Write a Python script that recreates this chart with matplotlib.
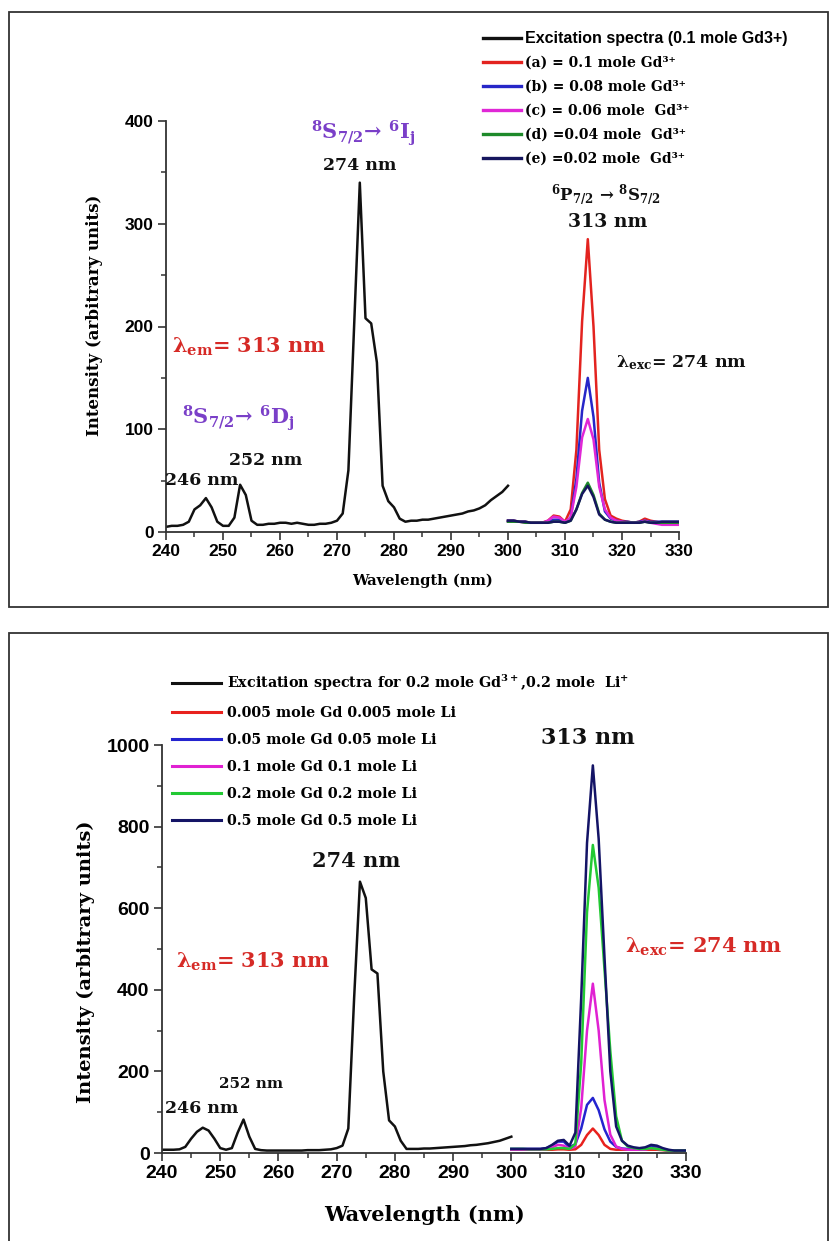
import matplotlib
matplotlib.use("Agg")
import matplotlib.pyplot as plt
from matplotlib.patches import Rectangle
from matplotlib.ticker import MultipleLocator

plt.rcParams['font.family'] = ['Liberation Sans', 'DejaVu Sans']
plt.rcParams['font.weight'] = 'bold'
plt.rcParams['mathtext.fontset'] = 'custom'
plt.rcParams['mathtext.rm'] = 'DejaVu Serif:bold'
plt.rcParams['mathtext.it'] = 'DejaVu Serif:bold'
plt.rcParams['mathtext.bf'] = 'DejaVu Serif:bold'

SERIF = ['DejaVu Serif', 'DejaVu Sans']
RED_TXT = '#d62a26'
PURPLE = '#7a3fc8'

# ---------------- data : panel 1 (Gd3+ series) ----------------
p1_exc_x = list(range(240, 301))
p1_exc_y = [5, 6, 6, 7, 10, 22, 26, 33, 24, 10,
            6, 6, 14, 46, 36, 11, 7, 7, 8, 8,
            9, 9, 8, 9, 8, 7, 7, 8, 8, 9,
            11, 18, 60, 200, 340, 208, 203, 165, 45, 30,
            24, 13, 10, 11, 11, 12, 12, 13, 14, 15,
            16, 17, 18, 20, 21, 23, 26, 31, 35, 39,
            45]

p1_em_x = list(range(300, 331))
p1_a = [11, 11, 10, 10, 9, 9, 9, 11, 16, 15, 10, 22, 80, 205, 285, 200, 80, 32, 16, 13,
        11, 10, 9, 10, 13, 11, 10, 9, 9, 9, 9]
p1_b = [11, 11, 10, 10, 9, 9, 9, 10, 12, 12, 9, 14, 52, 118, 150, 112, 48, 20, 13, 11,
        10, 10, 9, 10, 11, 10, 10, 10, 10, 10, 10]
p1_c = [10, 10, 10, 9, 9, 9, 9, 11, 15, 14, 10, 14, 44, 92, 110, 90, 44, 22, 14, 11,
        10, 9, 9, 9, 11, 9, 8, 7, 7, 7, 7]
p1_d = [10, 10, 10, 9, 9, 9, 9, 9, 10, 10, 9, 11, 22, 38, 48, 36, 18, 12, 10, 9,
        9, 9, 9, 9, 10, 9, 9, 9, 9, 9, 9]
p1_e = [11, 11, 10, 10, 9, 9, 9, 9, 10, 10, 9, 11, 22, 37, 45, 34, 17, 12, 10, 9,
        9, 9, 9, 9, 10, 9, 9, 10, 10, 10, 10]
p1_labels = ['Excitation spectra (0.1 mole Gd3+)',
             '(a) = 0.1 mole Gd³⁺',
             '(b) = 0.08 mole Gd³⁺',
             '(c) = 0.06 mole  Gd³⁺',
             '(d) =0.04 mole  Gd³⁺',
             '(e) =0.02 mole  Gd³⁺']
p1_colors = ['#111111', '#e3231f', '#2626c8', '#e027d6', '#1e8a2a', '#16165e']

# ---------------- data : panel 2 (Gd3+/Li+ series) ----------------
p2_exc_x = list(range(240, 301))
p2_exc_y = [8, 8, 8, 9, 15, 35, 52, 62, 55, 35,
            12, 8, 12, 50, 82, 40, 10, 7, 6, 6,
            6, 6, 6, 6, 6, 7, 7, 7, 8, 9,
            12, 18, 60, 380, 665, 625, 450, 440, 200, 80,
            65, 30, 10, 10, 10, 11, 11, 12, 13, 14,
            15, 16, 17, 19, 20, 22, 24, 27, 30, 35,
            40]

p2_em_x = list(range(300, 331))
p2_005 = [8, 8, 8, 8, 8, 8, 8, 8, 9, 9, 8, 9, 20, 44, 60, 44, 20, 10, 8, 8,
          8, 8, 8, 8, 8, 8, 7, 6, 6, 6, 6]
p2_05 = [10, 10, 10, 10, 10, 10, 12, 18, 28, 28, 14, 22, 60, 118, 135, 105, 58, 28, 15, 11,
         10, 10, 10, 12, 16, 14, 10, 7, 6, 6, 6]
p2_1 = [8, 8, 8, 8, 8, 8, 9, 14, 20, 18, 10, 16, 110, 300, 415, 300, 130, 45, 16, 10,
        8, 8, 8, 8, 12, 10, 8, 6, 6, 6, 6]
p2_2 = [10, 10, 10, 9, 9, 9, 9, 10, 12, 12, 10, 22, 220, 590, 755, 650, 450, 250, 90, 30,
        16, 12, 10, 10, 12, 10, 8, 6, 6, 6, 6]
p2_5 = [10, 10, 10, 10, 10, 10, 12, 20, 30, 32, 18, 50, 380, 760, 950, 770, 480, 200, 65, 30,
        18, 14, 12, 14, 20, 18, 12, 8, 6, 6, 6]
p2_labels = ['Excitation spectra for 0.2 mole Gd$^{3+}$,0.2 mole  Li$^{+}$',
             '0.005 mole Gd 0.005 mole Li',
             '0.05 mole Gd 0.05 mole Li',
             '0.1 mole Gd 0.1 mole Li',
             '0.2 mole Gd 0.2 mole Li',
             '0.5 mole Gd 0.5 mole Li']
p2_colors = ['#111111', '#e8211d', '#2424cf', '#e021d2', '#22c933', '#141466']


def style_axes(ax, ymax, ymajor, labelsize):
    ax.set_xlim(240, 330)
    ax.set_ylim(0, ymax)
    ax.xaxis.set_major_locator(MultipleLocator(10))
    ax.xaxis.set_minor_locator(MultipleLocator(5))
    ax.yaxis.set_major_locator(MultipleLocator(ymajor))
    ax.yaxis.set_minor_locator(MultipleLocator(ymajor / 2))
    for s in ['top', 'right']:
        ax.spines[s].set_visible(False)
    for s in ['left', 'bottom']:
        ax.spines[s].set_linewidth(1.3)
        ax.spines[s].set_color('#333333')
    ax.tick_params(which='major', direction='out', length=6, width=1.2,
                   color='#333333', labelsize=labelsize, pad=3)
    ax.tick_params(which='minor', direction='out', length=3.5, width=1.1,
                   color='#333333')


fig = plt.figure(figsize=(8.3, 12.41), dpi=100)

# panel frames
fig.add_artist(Rectangle((9 / 830, 1 - 607 / 1241), 819 / 830, 595 / 1241,
                         transform=fig.transFigure, fill=False, lw=1.3, ec='#333333'))
fig.add_artist(Rectangle((9 / 830, -0.01), 819 / 830, 1 - 633 / 1241 + 0.01,
                         transform=fig.transFigure, fill=False, lw=1.3, ec='#333333'))

# ---------------- panel 1 ----------------
ax1 = fig.add_axes([166 / 830, 1 - 532 / 1241, 513 / 830, 411 / 1241])
h1 = []
h1 += ax1.plot(p1_exc_x, p1_exc_y, color=p1_colors[0], lw=1.8)
for ys, c in zip([p1_a, p1_b, p1_c, p1_d, p1_e], p1_colors[1:]):
    h1 += ax1.plot(p1_em_x, ys, color=c, lw=1.8)
style_axes(ax1, 400, 100, 12.5)

ax1.set_ylabel('Intensity (arbitrary units)', family=SERIF, fontsize=12, weight='bold')
ax1.yaxis.set_label_coords(-0.122, 0.528)
ax1.set_xlabel('Wavelength (nm)', family=SERIF, fontsize=10.5, weight='bold')
ax1.xaxis.set_label_coords(0.5, -0.102)

t1 = dict(family=SERIF, weight='bold', ha='center', va='center')
ax1.text(274.6, 388, '$^{8}$S$_{7/2}$→ $^{6}$I$_{j}$', color=PURPLE, fontsize=15, **t1)
ax1.text(274.0, 357, '274 nm', color='#111111', fontsize=12.5, **t1)
ax1.text(317.2, 328, '$^{6}$P$_{7/2}$ → $^{8}$S$_{7/2}$', color='#111111', fontsize=12, **t1)
ax1.text(317.5, 302, '313 nm', color='#111111', fontsize=13.5, **t1)
ax1.text(330.5, 165, 'λ$_{exc}$= 274 nm', color='#111111', fontsize=12.5, **t1)
ax1.text(254.6, 180, 'λ$_{em}$= 313 nm', color=RED_TXT, fontsize=15, **t1)
ax1.text(252.6, 111, '$^{8}$S$_{7/2}$→ $^{6}$D$_{j}$', color=PURPLE, fontsize=15, **t1)
ax1.text(257.5, 70, '252 nm', color='#111111', fontsize=12.5, **t1)
ax1.text(246.3, 50.6, '246 nm', color='#111111', fontsize=12.5, **t1)

leg1 = ax1.legend(h1, p1_labels, loc='upper left',
                  bbox_to_anchor=(483 / 830, 1 - 31 / 1241),
                  bbox_transform=fig.transFigure, frameon=False,
                  prop=dict(family=SERIF, weight='bold', size=10),
                  handlelength=2.7, handletextpad=0.35, labelspacing=0.72,
                  borderpad=0, borderaxespad=0)
for ln in leg1.get_lines():
    ln.set_linewidth(2.4)
lt = leg1.get_texts()
lt[0].set_fontfamily(['Liberation Sans', 'DejaVu Sans'])
lt[0].set_fontsize(11.5)

# ---------------- panel 2 ----------------
ax2 = fig.add_axes([162 / 830, 1 - 1153 / 1241, 524 / 830, 408 / 1241])
h2 = []
h2 += ax2.plot(p2_exc_x, p2_exc_y, color=p2_colors[0], lw=1.8)
for ys, c in zip([p2_005, p2_05, p2_1, p2_2, p2_5], p2_colors[1:]):
    h2 += ax2.plot(p2_em_x, ys, color=c, lw=1.8)
style_axes(ax2, 1000, 200, 14)

ax2.set_ylabel('Intensity (arbitrary units)', family=SERIF, fontsize=14, weight='bold')
ax2.yaxis.set_label_coords(-0.128, 0.468)
ax2.set_xlabel('Wavelength (nm)', family=SERIF, fontsize=15, weight='bold')
ax2.xaxis.set_label_coords(0.5, -0.127)

ax2.text(313.2, 1017, '313 nm', color='#111111', fontsize=16, **t1)
ax2.text(273.3, 716, '274 nm', color='#111111', fontsize=15, **t1)
ax2.text(255.6, 468, 'λ$_{em}$= 313 nm', color=RED_TXT, fontsize=15, **t1)
ax2.text(332.9, 505, 'λ$_{exc}$= 274 nm', color=RED_TXT, fontsize=15, **t1)
ax2.text(255.3, 169, '252 nm', color='#111111', fontsize=11, **t1)
ax2.text(246.9, 108, '246 nm', color='#111111', fontsize=12.5, **t1)

leg2 = ax2.legend(h2, p2_labels, loc='upper left',
                  bbox_to_anchor=(172 / 830, 1 - 673 / 1241),
                  bbox_transform=fig.transFigure, frameon=False,
                  prop=dict(family=SERIF, weight='bold', size=10.3),
                  handlelength=3.4, handletextpad=0.45, labelspacing=0.9,
                  borderpad=0, borderaxespad=0)
for ln in leg2.get_lines():
    ln.set_linewidth(2.2)

fig.savefig('out.png', dpi=100)
